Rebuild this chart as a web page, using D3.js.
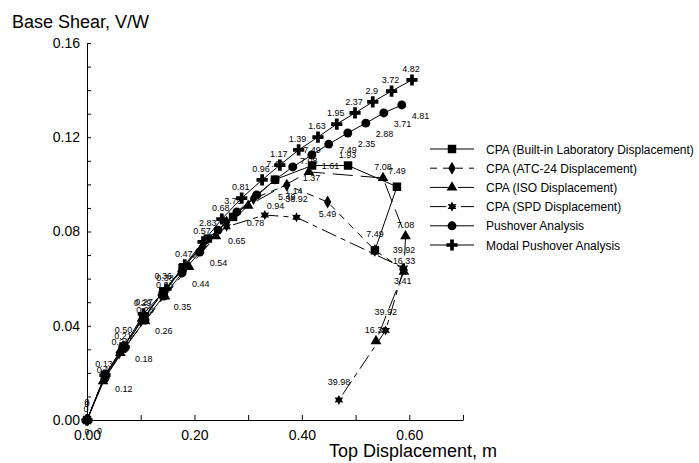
<!DOCTYPE html>
<html>
<head>
<meta charset="utf-8">
<script src="https://cdn.jsdelivr.net/npm/d3@7"></script>
<style>
  body { margin: 0; background: #fff; }
  svg text { font-family: "Liberation Sans", Arial, Helvetica, sans-serif; fill: #000; }
</style>
</head>
<body>
<svg id="chart" width="699" height="463"></svg>
<script>
// ---------------- DATA ----------------
const xTickValues = [0, 0.1, 0.2, 0.3, 0.4, 0.5, 0.6, 0.7];
const xTickLabels = ["0.00", "", "0.20", "", "0.40", "", "0.60", ""];
const yTickValues = [0, 0.01, 0.02, 0.03, 0.04, 0.05, 0.06, 0.07, 0.08, 0.09, 0.10, 0.11, 0.12, 0.13, 0.14, 0.15, 0.16];
const yTickLabels = ["0.00", "", "", "", "0.04", "", "", "", "0.08", "", "", "", "0.12", "", "", "", "0.16"];

const xTitle = "Top Displacement, m";
const yTitle = "Base Shear, V/W";

const seriesNames = [
  "CPA (Built-in Laboratory Displacement)",
  "CPA (ATC-24 Displacement)",
  "CPA (ISO Displacement)",
  "CPA (SPD Displacement)",
  "Pushover Analysis",
  "Modal Pushover Analysis"
];

// CPA (Built-in Laboratory Displacement) - squares
const builtinX = [0, 0.034, 0.068, 0.106, 0.142, 0.178, 0.225, 0.272, 0.350, 0.419, 0.486, 0.577, 0.536];
const builtinY = [0, 0.0192, 0.0312, 0.0435, 0.0545, 0.0645, 0.0770, 0.0862, 0.1020, 0.1080, 0.1080, 0.0990, 0.0720];
const builtinL = ["0", "", "0.50", "0.27", "0.36", "", "2.83", "3.79", "7.49", "7.49", "7.49", "7.49", "7.49"];

// CPA (ATC-24 Displacement) - diamonds
const atcX = [0, 0.032, 0.060, 0.100, 0.138, 0.175, 0.215, 0.260, 0.310, 0.372, 0.448, 0.536, 0.588];
const atcY = [0, 0.0185, 0.0285, 0.0420, 0.0530, 0.0630, 0.0735, 0.0840, 0.0940, 0.0997, 0.0925, 0.0720, 0.0640];
const atcL = ["0", "", "", "", "", "", "", "", "", "5.49", "5.49", "", "3.41"];

// CPA (ISO Displacement) - triangles
const isoX = [0, 0.030, 0.062, 0.108, 0.145, 0.190, 0.240, 0.300, 0.413, 0.551, 0.593, 0.590, 0.538];
const isoY = [0, 0.0165, 0.0285, 0.0420, 0.0525, 0.0650, 0.0780, 0.0910, 0.1053, 0.1027, 0.0780, 0.0630, 0.0335];
const isoL = ["", "0.1", "0.21", "0.28", "0.36", "", "", "", "7.08", "7.08", "7.08", "16.33", "16.33"];

// CPA (SPD Displacement) - stars
const spdX = [0, 0.033, 0.066, 0.104, 0.140, 0.181, 0.216, 0.260, 0.331, 0.390, 0.590, 0.556, 0.469];
const spdY = [0, 0.0185, 0.0295, 0.0430, 0.0535, 0.0650, 0.0745, 0.0820, 0.0870, 0.0860, 0.0645, 0.0380, 0.0085];
const spdL = ["0", "", "", "", "", "", "", "", "", "38.92", "39.92", "39.92", "39.98"];

// Pushover Analysis - circles
const poX = [0, 0.0335, 0.0707, 0.108, 0.143, 0.177, 0.210, 0.244, 0.279, 0.316, 0.350, 0.383, 0.4186, 0.450, 0.4856, 0.519, 0.5526, 0.586];
const poY = [0, 0.0178, 0.0306, 0.0424, 0.0526, 0.0624, 0.0713, 0.0806, 0.0883, 0.0955, 0.1019, 0.1074, 0.1125, 0.1171, 0.1218, 0.1260, 0.1303, 0.1337];
const poL = ["0", "0.12", "0.18", "0.26", "0.35", "0.44", "0.54", "0.65", "0.78", "0.94", "1.14", "1.37", "1.61", "1.93", "2.35", "2.88", "3.71", "4.81"];

// Modal Pushover Analysis - plus
const mpaX = [0, 0.0335, 0.069, 0.105, 0.147, 0.182, 0.216, 0.251, 0.288, 0.326, 0.359, 0.394, 0.430, 0.465, 0.499, 0.532, 0.567, 0.605];
const mpaY = [0, 0.0190, 0.0310, 0.0450, 0.0556, 0.0658, 0.0756, 0.0853, 0.0942, 0.1019, 0.1082, 0.1146, 0.1201, 0.1256, 0.1303, 0.1350, 0.1396, 0.1443];
const mpaL = ["0", "0.13", "0.21", "0.29", "0.38", "0.47", "0.57", "0.68", "0.81", "0.96", "1.17", "1.39", "1.63", "1.95", "2.37", "2.9", "3.72", "4.82"];

// ---------------- CHART ----------------
const svg = d3.select("#chart");
const x = d3.scaleLinear().domain([0, 0.7]).range([87, 463]);
const y = d3.scaleLinear().domain([0, 0.16]).range([420, 43]);

function starPath(r) {
  const pts = [];
  for (let i = 0; i < 12; i++) {
    const a = -Math.PI / 2 + i * Math.PI / 6;
    const rr = i % 2 === 0 ? r : r * 0.55;
    pts.push([rr * Math.cos(a), rr * Math.sin(a)]);
  }
  return "M" + pts.map(p => p[0].toFixed(2) + "," + p[1].toFixed(2)).join("L") + "Z";
}
const markerPath = {
  square: d3.symbol().type(d3.symbolSquare).size(72)(),
  diamond: d3.symbol().type(d3.symbolDiamond).size(48)(),
  triangle: d3.symbol().type(d3.symbolTriangle).size(50)(),
  star: starPath(5),
  circle: d3.symbol().type(d3.symbolCircle).size(62)(),
  plus: d3.symbol().type(d3.symbolCross).size(70)()
};

const series = [
  { name: seriesNames[0], xs: builtinX, ys: builtinY, ls: builtinL, marker: "square",  dash: null,       lab: { anchor: "middle", dx: 0,  dy: -13 } },
  { name: seriesNames[1], xs: atcX,     ys: atcY,     ls: atcL,     marker: "diamond", dash: "7,6",      lab: { anchor: "middle", dx: 0,  dy: 15 } },
  { name: seriesNames[2], xs: isoX,     ys: isoY,     ls: isoL,     marker: "triangle",dash: "20,8",     lab: { anchor: "middle", dx: 0,  dy: -8 } },
  { name: seriesNames[3], xs: spdX,     ys: spdY,     ls: spdL,     marker: "star",    dash: "16,5,5,5", lab: { anchor: "middle", dx: 0,  dy: -15 } },
  { name: seriesNames[4], xs: poX,      ys: poY,      ls: poL,      marker: "circle",  dash: null,       lab: { anchor: "start",  dx: 10, dy: 14 } },
  { name: seriesNames[5], xs: mpaX,     ys: mpaY,     ls: mpaL,     marker: "plus",    dash: null,       lab: { anchor: "middle", dx: -1, dy: -8 } }
];

// axes
const xAxis = d3.axisBottom(x).tickValues(xTickValues)
  .tickFormat((d, i) => xTickLabels[i]).tickSizeInner(-5).tickSizeOuter(0).tickPadding(10);
const yAxis = d3.axisLeft(y).tickValues(yTickValues)
  .tickFormat((d, i) => yTickLabels[i]).tickSizeInner(-4).tickSizeOuter(0).tickPadding(7);

const gx = svg.append("g").attr("transform", "translate(0,420)").call(xAxis);
const gy = svg.append("g").attr("transform", "translate(87,0)").call(yAxis);
[gx, gy].forEach(g => {
  g.selectAll("path.domain").attr("stroke", "#000").attr("stroke-width", 1);
  g.selectAll(".tick line").attr("stroke", "#000").attr("stroke-width", 1);
  g.selectAll(".tick text").attr("font-size", 14).attr("font-family", "Liberation Sans, Arial, sans-serif").attr("fill", "#000");
});

// titles
svg.append("text").attr("x", 12).attr("y", 28).attr("font-size", 18).text(yTitle);
svg.append("text").attr("x", 497).attr("y", 457).attr("font-size", 18).attr("text-anchor", "end").text(xTitle);

// lines
const line = d3.line().x(p => x(p[0])).y(p => y(p[1]));
const plot = svg.append("g");
series.forEach(s => {
  const pts = s.xs.map((v, i) => [v, s.ys[i]]);
  plot.append("path").attr("d", line(pts)).attr("fill", "none")
    .attr("stroke", "#000").attr("stroke-width", 1)
    .attr("stroke-dasharray", s.dash);
});
// markers
series.forEach(s => {
  s.xs.forEach((v, i) => {
    plot.append("path").attr("d", markerPath[s.marker])
      .attr("transform", `translate(${x(v)},${y(s.ys[i])})`)
      .attr("fill", "#000");
  });
});
// point labels
series.forEach(s => {
  s.xs.forEach((v, i) => {
    if (!s.ls[i]) return;
    plot.append("text").attr("x", x(v) + s.lab.dx).attr("y", y(s.ys[i]) + s.lab.dy)
      .attr("text-anchor", s.lab.anchor).attr("font-size", 9).text(s.ls[i]);
  });
});

// legend
const lg = svg.append("g");
series.forEach((s, i) => {
  const ly = 149 + i * 19.2;
  lg.append("line").attr("x1", 430).attr("x2", 474).attr("y1", ly).attr("y2", ly)
    .attr("stroke", "#000").attr("stroke-width", 1).attr("stroke-dasharray", s.dash);
  lg.append("path").attr("d", markerPath[s.marker]).attr("transform", `translate(452,${ly})`).attr("fill", "#000");
  lg.append("text").attr("x", 486).attr("y", ly + 4.5).attr("font-size", 12).text(s.name);
});
</script>
</body>
</html>
